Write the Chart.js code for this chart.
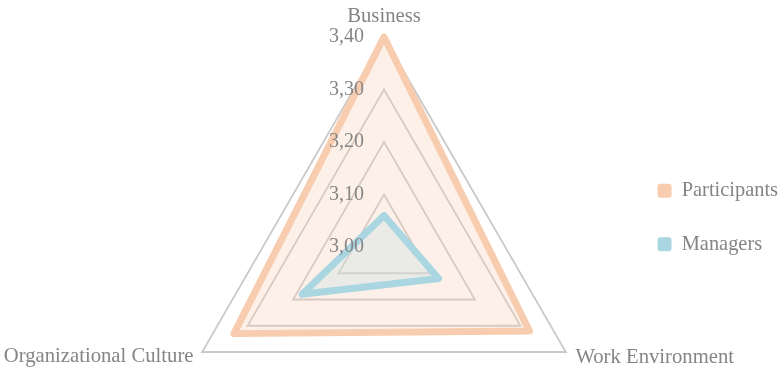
<!DOCTYPE html>
<html>
<head>
<meta charset="utf-8">
<script src="https://cdn.jsdelivr.net/npm/chart.js@4/dist/chart.umd.min.js"></script>
<style>
  html, body { margin: 0; padding: 0; background: #fff; }
  #wrap { width: 780px; height: 370px; }
</style>
</head>
<body>
<div id="wrap"><canvas id="myChart"></canvas></div>
<script>
// survey dimensions (clockwise from the top)
const categories = ["Business", "Work Environment", "Organizational Culture"];
const seriesNames = ["Participants", "Managers"];
const participants = [3.40, 3.32, 3.33];
const managers = [3.06, 3.12, 3.18];
const tickMin = 3.0;
const tickMax = 3.4;
const tickStep = 0.1;

const textColor = "#858585";
const fontFamily = "'Liberation Serif', 'Times New Roman', serif";

// radar geometry inside the canvas
const radarX = 384;
const radarY = 247;
const radarR = 210;
const titleGap = [20, 11, 10];

// category names around the triangle
const axisTitles = {
    id: "axisTitles",
    afterDraw(chart) {
        const r = chart.scales.r;
        const ctx = chart.ctx;
        ctx.save();
        ctx.font = "20.7px " + fontFamily;
        ctx.fillStyle = textColor;
        ctx.textBaseline = "middle";
        chart.data.labels.forEach((label, i) => {
            const p = r.getPointPosition(i, r.drawingArea + titleGap[i]);
            if (Math.abs(p.x - r.xCenter) < 1) ctx.textAlign = "center";
            else ctx.textAlign = p.x > r.xCenter ? "left" : "right";
            ctx.fillText(label, p.x, p.y);
        });
        ctx.restore();
    }
};

const ctx = document.getElementById("myChart").getContext("2d");
const myChart = new Chart(ctx, {
    type: "radar",
    data: {
        labels: categories,
        datasets: [{
            label: seriesNames[0],
            data: participants,
            order: 1,
            borderColor: "rgb(248, 204, 174)",
            backgroundColor: "rgba(247, 206, 178, 0.3)",
            borderWidth: 7,
            borderJoinStyle: "round",
            pointRadius: 0,
            clip: false
        }, {
            label: seriesNames[1],
            data: managers,
            order: 0,   // drawn on top of the participants fill
            borderColor: "rgb(170, 214, 226)",
            backgroundColor: "rgba(200, 225, 228, 0.37)",
            borderWidth: 7,
            borderJoinStyle: "round",
            pointRadius: 0,
            clip: false
        }]
    },
    options: {
        responsive: true,
        maintainAspectRatio: false,
        animation: false,
        layout: {
            // negative bottom keeps the legend low without clipping the fill
            padding: { top: 0, bottom: -65, right: -8 }
        },
        plugins: {
            tooltip: { enabled: false },
            legend: {
                position: "right",
                labels: {
                    color: textColor,
                    font: { family: fontFamily, size: 20.4 },
                    boxWidth: 14,
                    boxHeight: 14,
                    padding: 33,
                    useBorderRadius: true,
                    borderRadius: 3,
                    sort: (a, b) => a.datasetIndex - b.datasetIndex,
                    generateLabels(chart) {
                        return Chart.defaults.plugins.legend.labels.generateLabels(chart).map(item => {
                            const ds = chart.data.datasets[item.datasetIndex];
                            item.fillStyle = ds.borderColor;
                            item.lineWidth = 0;
                            return item;
                        });
                    }
                }
            }
        },
        scales: {
            r: {
                min: tickMin,
                max: tickMax,
                angleLines: { display: false },
                grid: { color: "#c9c9c9", lineWidth: 1.8 },
                pointLabels: { display: false },
                ticks: {
                    z: 1,
                    stepSize: tickStep,
                    color: textColor,
                    showLabelBackdrop: false,
                    font: { family: fontFamily, size: 20 },
                    // trailing spaces push the labels left of the apex
                    callback: v => v.toFixed(2).replace(".", ",") + " ".repeat(15)
                },
                afterBuildTicks(scale) {
                    // first tick is never labelled, so repeat the minimum
                    scale.ticks.unshift({ value: scale.min });
                },
                afterFit(scale) {
                    scale.xCenter = radarX;
                    scale.yCenter = radarY;
                    scale.drawingArea = radarR;
                }
            }
        }
    },
    plugins: [axisTitles]
});
</script>
</body>
</html>
